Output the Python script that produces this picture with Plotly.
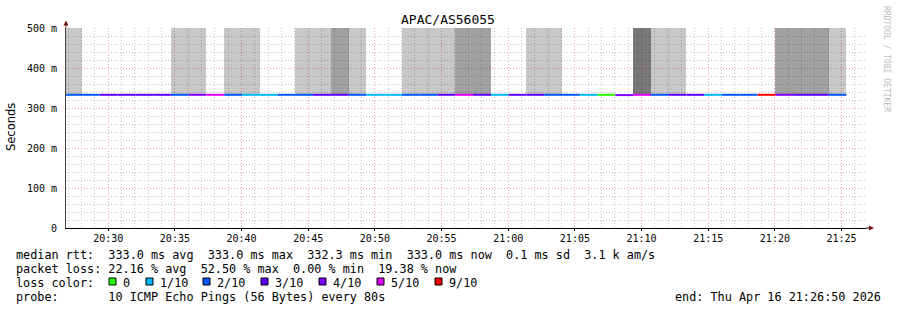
import plotly.graph_objects as go
from datetime import datetime, timedelta

# ---------------- data ----------------
range_start = datetime(2026, 4, 16, 20, 26, 50)
range_end = datetime(2026, 4, 16, 21, 26, 50)
first_step = datetime(2026, 4, 16, 20, 26, 42)
step_seconds = 80

median_ms = [333.0, 333.0, 333.0, 333.0, 333.0, 333.0, 333.0, 333.0, 333.0, 333.0,
             333.0, 333.0, 333.0, 333.0, 333.0, 333.0, 333.0, 333.0, 333.0, 333.0,
             333.0, 333.0, 333.0, 333.0, 333.0, 333.0, 333.0, 333.0, 333.0, 333.0,
             333.0, 332.3, 333.0, 333.0, 333.0, 333.0, 333.0, 333.0, 333.0, 333.0,
             333.0, 333.0, 333.0, 333.0]

loss_level = [2, 2, 3, 3, 3, 3, 2, 4, 5, 2,
              1, 1, 2, 2, 3, 3, 2, 1, 1, 2,
              2, 3, 5, 3, 1, 3, 3, 2, 2, 1,
              0, 4, 5, 2, 3, 3, 1, 2, 2, 9,
              4, 3, 3, 2]

# smoke shade per step: 0 none, 1 light, 2 medium, 3 dark
smoke_shade = [1, 0, 0, 0, 0, 0, 1, 1, 0, 1,
               1, 0, 0, 1, 1, 2, 1, 0, 0, 1,
               1, 1, 2, 2, 0, 0, 1, 1, 0, 0,
               0, 0, 3, 1, 1, 0, 0, 0, 0, 0,
               2, 2, 2, 1]
smoke_top_ms = [500.0] * 44

loss_labels = ["0", "1/10", "2/10", "3/10", "4/10", "5/10", "9/10"]
loss_keys = [0, 1, 2, 3, 4, 5, 9]
loss_colors = ["#26ff00", "#00b8ff", "#0059ff", "#5e00ff", "#7e00ff", "#dd00ff", "#ff0000"]
shade_colors = {1: "rgba(0,0,0,0.215)", 2: "rgba(0,0,0,0.37)", 3: "rgba(0,0,0,0.53)"}

y_tickvals = [0, 100, 200, 300, 400, 500]
y_ticktext = ["0", "100 m", "200 m", "300 m", "400 m", "500 m"]

title = "APAC/AS56055"
legend_lines = [
    "median rtt:  333.0 ms avg  333.0 ms max  332.3 ms min  333.0 ms now  0.1 ms sd  3.1 k am/s",
    "packet loss: 22.16 % avg  52.50 % max  0.00 % min  19.38 % now",
    "loss color:",
    "probe:       10 ICMP Echo Pings (56 Bytes) every 80s",
]
end_text = "end: Thu Apr 16 21:26:50 2026"

# ---------------- geometry helpers ----------------
W, H = 897, 310
L, R, T, B = 66, 866, 28, 228

def px(x):
    return (x - L) / (R - L)

def py(y):
    return (B - y) / (B - T)

mono = "DejaVu Sans Mono"
nb = lambda s: s.replace(" ", "\u00a0")

n = len(median_ms)
starts = [first_step + timedelta(seconds=step_seconds * k) for k in range(n)]
ends = [s + timedelta(seconds=step_seconds) for s in starts]
centers = [s + timedelta(seconds=step_seconds / 2) for s in starts]

fig = go.Figure()

# smoke
bx, bb, by, bc = [], [], [], []
for k in range(n):
    if smoke_shade[k]:
        bx.append(centers[k])
        bb.append(median_ms[k])
        by.append(smoke_top_ms[k] - median_ms[k])
        bc.append(shade_colors[smoke_shade[k]])
fig.add_trace(go.Bar(x=bx, y=by, base=bb, width=[step_seconds * 1000] * len(bx),
                     marker=dict(color=bc, line=dict(width=0)), hoverinfo="skip"))

# median line coloured by loss
for key, col in zip(loss_keys, loss_colors):
    xs, ys = [], []
    for k in range(n):
        if loss_level[k] == key:
            xs += [starts[k], ends[k], None]
            ys += [median_ms[k], median_ms[k], None]
    if xs:
        fig.add_trace(go.Scatter(x=xs, y=ys, mode="lines",
                                 line=dict(color=col, width=2), hoverinfo="skip"))

fig.update_layout(
    width=W, height=H,
    margin=dict(l=L, r=W - R, t=T, b=H - B, pad=0),
    paper_bgcolor="white", plot_bgcolor="white",
    showlegend=False, bargap=0,
    font=dict(family=mono, color="black"),
)

fig.update_xaxes(
    type="date", range=[range_start, range_end],
    tickformat="%H:%M", dtick=300000, tick0="2026-04-16 20:30:00",
    showgrid=True, gridcolor="#f4a4a4", gridwidth=1, griddash="1px,2px",
    minor=dict(dtick=60000, showgrid=True, gridcolor="#c8c8c8", griddash="1px,2px",
               ticks=""),
    showline=True, linecolor="black", linewidth=1,
    ticks="outside", ticklen=2, tickcolor="black", ticklabelstandoff=-1,
    tickfont=dict(family=mono, size=10, color="black"),
    zeroline=False, fixedrange=True,
)
fig.update_yaxes(
    range=[0, 500], tickvals=y_tickvals, ticktext=y_ticktext,
    showgrid=True, gridcolor="#f4a4a4", gridwidth=1, griddash="1px,2px",
    minor=dict(dtick=20, showgrid=True, gridcolor="#c8c8c8", griddash="1px,2px"),
    showline=True, linecolor="#444444", linewidth=1,
    ticks="", ticklabelstandoff=6,
    tickfont=dict(family=mono, size=10, color="black"),
    zeroline=False, fixedrange=True,
)

shapes = []
# axis extensions and arrows
shapes.append(dict(type="line", xref="paper", yref="paper", x0=px(L), x1=px(L),
                   y0=py(T), y1=py(24), line=dict(color="#444444", width=1)))
shapes.append(dict(type="path", xref="paper", yref="paper",
                   path=f"M {px(63.5)},{py(25.5)} L {px(68.5)},{py(25.5)} L {px(66)},{py(20.5)} Z",
                   fillcolor="#7a1010", line=dict(width=0)))
shapes.append(dict(type="line", xref="paper", yref="paper", x0=px(R), x1=px(869),
                   y0=py(B), y1=py(B), line=dict(color="black", width=1)))
shapes.append(dict(type="path", xref="paper", yref="paper",
                   path=f"M {px(869)},{py(225.5)} L {px(874)},{py(228)} L {px(869)},{py(230.5)} Z",
                   fillcolor="#7a1010", line=dict(width=0)))

annotations = []
annotations.append(dict(text=title, xref="paper", yref="paper", x=px(448), y=py(20),
                        xanchor="center", yanchor="middle", showarrow=False,
                        font=dict(family=mono, size=13, color="black")))
annotations.append(dict(text="Seconds", xref="paper", yref="paper", x=px(11), y=py(127),
                        xanchor="center", yanchor="middle", showarrow=False, textangle=-90,
                        font=dict(family="DejaVu Sans", size=11.5, color="black")))
annotations.append(dict(text=nb("RRDTOOL / TOBI OETIKER"), xref="paper", yref="paper",
                        x=px(887), y=py(59), xanchor="center", yanchor="middle",
                        showarrow=False, textangle=90,
                        font=dict(family=mono, size=8, color="#bdbdbd")))

line_y = [254.5, 268.5, 282.5, 296.5]
for txt, yy in zip(legend_lines, line_y):
    annotations.append(dict(text=nb(txt), xref="paper", yref="paper", x=px(14), y=py(yy),
                            xanchor="left", yanchor="middle", showarrow=False,
                            font=dict(family=mono, size=11.8, color="black")))
annotations.append(dict(text=nb(end_text), xref="paper", yref="paper", x=px(883), y=py(line_y[3]),
                        xanchor="right", yanchor="middle", showarrow=False,
                        font=dict(family=mono, size=11.8, color="black")))

box_x = [109, 146, 203, 261, 319, 377, 435]
for bxp, lab, col in zip(box_x, loss_labels, loss_colors):
    shapes.append(dict(type="rect", xref="paper", yref="paper",
                       x0=px(bxp), x1=px(bxp + 7), y0=py(278), y1=py(285),
                       fillcolor=col, line=dict(color="black", width=1)))
    annotations.append(dict(text=lab, xref="paper", yref="paper", x=px(bxp + 12), y=py(line_y[2]),
                            xanchor="left", yanchor="middle", showarrow=False,
                            font=dict(family=mono, size=11.8, color="black")))

fig.update_layout(shapes=shapes, annotations=annotations)
fig.write_html("out.html")
